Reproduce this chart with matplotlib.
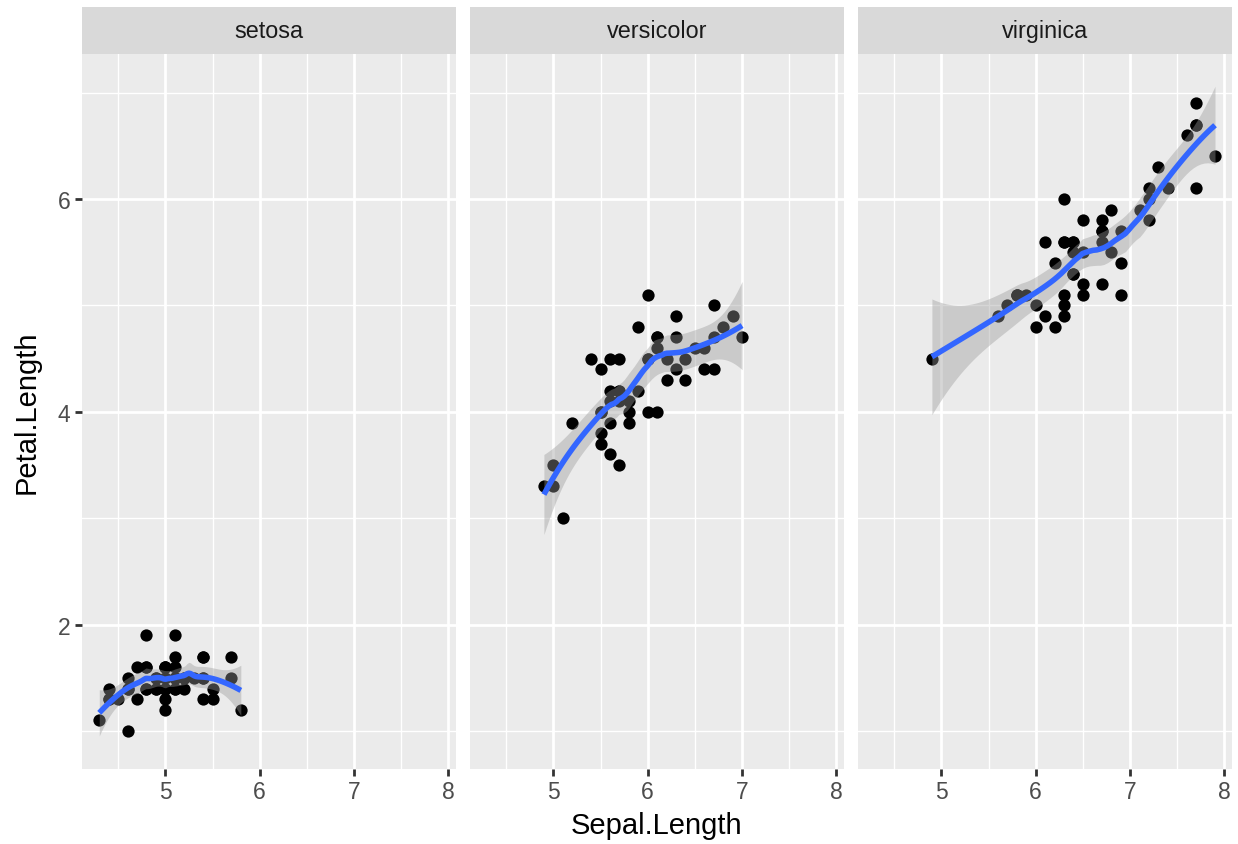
import numpy as np
import matplotlib
matplotlib.use("Agg")
import matplotlib.pyplot as plt

# --------------------------------------------------------------------------------------------------
# iris: Sepal.Length / Petal.Length per species
SPECIES = ["setosa", "versicolor", "virginica"]

SEPAL_SETOSA = [5.1, 4.9, 4.7, 4.6, 5.0, 5.4, 4.6, 5.0, 4.4, 4.9, 5.4, 4.8, 4.8, 4.3, 5.8, 5.7, 5.4,
                5.1, 5.7, 5.1, 5.4, 5.1, 4.6, 5.1, 4.8, 5.0, 5.0, 5.2, 5.2, 4.7, 4.8, 5.4, 5.2, 5.5,
                4.9, 5.0, 5.5, 4.9, 4.4, 5.1, 5.0, 4.5, 4.4, 5.0, 5.1, 4.8, 5.1, 4.6, 5.3, 5.0]
PETAL_SETOSA = [1.4, 1.4, 1.3, 1.5, 1.4, 1.7, 1.4, 1.5, 1.4, 1.5, 1.5, 1.6, 1.4, 1.1, 1.2, 1.5, 1.3,
                1.4, 1.7, 1.5, 1.7, 1.5, 1.0, 1.7, 1.9, 1.6, 1.6, 1.5, 1.4, 1.6, 1.6, 1.5, 1.5, 1.4,
                1.5, 1.2, 1.3, 1.4, 1.3, 1.5, 1.3, 1.3, 1.3, 1.6, 1.9, 1.4, 1.6, 1.4, 1.5, 1.4]

SEPAL_VERSICOLOR = [7.0, 6.4, 6.9, 5.5, 6.5, 5.7, 6.3, 4.9, 6.6, 5.2, 5.0, 5.9, 6.0, 6.1, 5.6, 6.7,
                    5.6, 5.8, 6.2, 5.6, 5.9, 6.1, 6.3, 6.1, 6.4, 6.6, 6.8, 6.7, 6.0, 5.7, 5.5, 5.5,
                    5.8, 6.0, 5.4, 6.0, 6.7, 6.3, 5.6, 5.5, 5.5, 6.1, 5.8, 5.0, 5.6, 5.7, 5.7, 6.2,
                    5.1, 5.7]
PETAL_VERSICOLOR = [4.7, 4.5, 4.9, 4.0, 4.6, 4.5, 4.7, 3.3, 4.6, 3.9, 3.5, 4.2, 4.0, 4.7, 3.6, 4.4,
                    4.5, 4.1, 4.5, 3.9, 4.8, 4.0, 4.9, 4.7, 4.3, 4.4, 4.8, 5.0, 4.5, 3.5, 3.8, 3.7,
                    3.9, 5.1, 4.5, 4.5, 4.7, 4.4, 4.1, 4.0, 4.4, 4.6, 4.0, 3.3, 4.2, 4.2, 4.2, 4.3,
                    3.0, 4.1]

SEPAL_VIRGINICA = [6.3, 5.8, 7.1, 6.3, 6.5, 7.6, 4.9, 7.3, 6.7, 7.2, 6.5, 6.4, 6.8, 5.7, 5.8, 6.4,
                   6.5, 7.7, 7.7, 6.0, 6.9, 5.6, 7.7, 6.3, 6.7, 7.2, 6.2, 6.1, 6.4, 7.2, 7.4, 7.9,
                   6.4, 6.3, 6.1, 7.7, 6.3, 6.4, 6.0, 6.9, 6.7, 6.9, 5.8, 6.8, 6.7, 6.7, 6.3, 6.5,
                   6.2, 5.9]
PETAL_VIRGINICA = [6.0, 5.1, 5.9, 5.6, 5.8, 6.6, 4.5, 6.3, 5.8, 6.1, 5.1, 5.3, 5.5, 5.0, 5.1, 5.3,
                   5.5, 6.7, 6.9, 5.0, 5.7, 4.9, 6.7, 4.9, 5.7, 6.0, 4.8, 4.9, 5.6, 5.8, 6.1, 6.4,
                   5.6, 5.1, 5.6, 6.1, 5.6, 5.5, 4.8, 5.4, 5.6, 5.1, 5.1, 5.9, 5.7, 5.2, 5.0, 5.2,
                   5.4, 5.1]

SEPAL = [SEPAL_SETOSA, SEPAL_VERSICOLOR, SEPAL_VIRGINICA]
PETAL = [PETAL_SETOSA, PETAL_VERSICOLOR, PETAL_VIRGINICA]

X_TICKS = [5, 6, 7, 8]
Y_TICKS = [2, 4, 6]
X_MINOR = [4.5, 5.5, 6.5, 7.5]
Y_MINOR = [1, 3, 5, 7]
XLIM = (4.117, 8.08)
YLIM = (0.644, 7.363)
FILE_FIG = "out.png"
# --------------------------------------------------------------------------------------------------


def loess(x, y, xs, span=0.75):
    # local quadratic fit with tricube weights (like R's loess defaults)
    n = len(x)
    q = int(np.floor(n * span))

    def row(x0):
        d = np.abs(x - x0)
        h = np.sort(d)[q - 1] * 1.0001
        w = np.clip(1 - (d / h) ** 3, 0, None) ** 3
        X = np.column_stack([np.ones(n), x - x0, (x - x0) ** 2])
        A = X.T @ (w[:, None] * X)
        return (np.linalg.solve(A, (w[:, None] * X).T))[0]

    L = np.array([row(v) for v in x])
    Lp = np.array([row(v) for v in xs])
    res = y - L @ y
    M = (np.eye(n) - L).T @ (np.eye(n) - L)
    d1 = np.trace(M)
    d2 = np.trace(M @ M)
    s = np.sqrt(np.sum(res ** 2) / d1)
    df = d1 ** 2 / d2
    z = 1.959964
    t = z + (z ** 3 + z) / (4 * df) + (5 * z ** 5 + 16 * z ** 3 + 3 * z) / (96 * df ** 2)
    fit = Lp @ y
    se = s * np.sqrt(np.sum(Lp ** 2, axis=1))
    return fit, fit - t * se, fit + t * se


def main():
    plt.rcParams["font.family"] = ["Liberation Sans", "DejaVu Sans"]
    fig = plt.figure(figsize=(12.38, 8.45), dpi=100)
    W, H = 1238.0, 845.0
    lefts = [82, 470, 858]
    pw = 374
    top, bottom = 55, 770
    strip_h = 47

    for i, sp in enumerate(SPECIES):
        x = np.array(SEPAL[i])
        y = np.array(PETAL[i])
        ax = fig.add_axes([lefts[i] / W, (H - bottom) / H, pw / W, (bottom - top) / H])
        ax.set_facecolor("#EBEBEB")
        ax.set_xlim(*XLIM)
        ax.set_ylim(*YLIM)
        for v in X_MINOR:
            ax.axvline(v, color="white", lw=1.0, zorder=0)
        for v in Y_MINOR:
            ax.axhline(v, color="white", lw=1.0, zorder=0)
        for v in X_TICKS:
            ax.axvline(v, color="white", lw=2.0, zorder=0)
        for v in Y_TICKS:
            ax.axhline(v, color="white", lw=2.0, zorder=0)

        ax.scatter(x, y, s=78, color="black", linewidths=0, zorder=2)
        xs = np.linspace(x.min(), x.max(), 80)
        fit, lo, hi = loess(x, y, xs)
        ax.fill_between(xs, lo, hi, color="#999999", alpha=0.4, linewidth=0, zorder=3)
        ax.plot(xs, fit, color="#3366FF", lw=4.0, zorder=4, solid_capstyle="butt")

        for s in ax.spines.values():
            s.set_visible(False)
        ax.set_xticks(X_TICKS)
        ax.set_xticklabels([str(v) for v in X_TICKS])
        ax.tick_params(axis="x", length=5.2, width=2.0, color="#333333", pad=3,
                       labelsize=16.5, labelcolor="#4D4D4D")
        if i == 0:
            ax.set_yticks(Y_TICKS)
            ax.set_yticklabels([str(v) for v in Y_TICKS])
            ax.tick_params(axis="y", length=5.2, width=2.0, color="#333333", pad=3,
                           labelsize=16.5, labelcolor="#4D4D4D")
        else:
            ax.set_yticks([])

        sax = fig.add_axes([lefts[i] / W, (H - top) / H, pw / W, strip_h / H])
        sax.set_facecolor("#D9D9D9")
        sax.set_xticks([])
        sax.set_yticks([])
        for s in sax.spines.values():
            s.set_visible(False)
        sax.text(0.5, 0.5, sp, ha="center", va="center", fontsize=16.8, color="#1A1A1A",
                 transform=sax.transAxes)

    fig.text(657 / W, 1 - 826 / H, "Sepal.Length", ha="center", va="center", fontsize=21)
    fig.text(27 / W, 1 - 412 / H, "Petal.Length", ha="center", va="center", fontsize=21,
             rotation=90)

    fig.savefig(FILE_FIG, dpi=100)
    plt.close()
# --------------------------------------------------------------------------------------------------


if __name__ == '__main__':
    main()
